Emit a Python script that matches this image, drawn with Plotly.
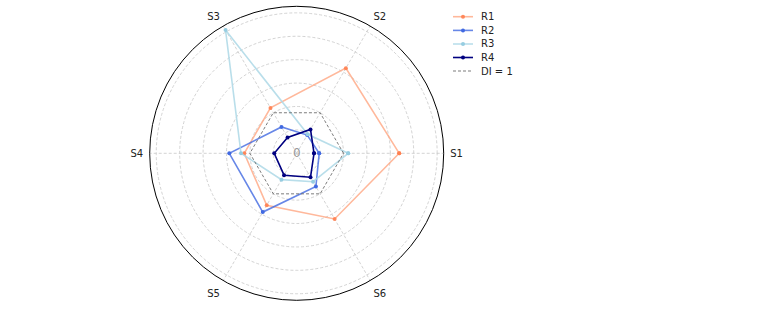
import plotly.graph_objects as go

categories = ["S1", "S2", "S3", "S4", "S5", "S6"]
r1 = [2.19, 2.10, 1.12, 1.12, 1.28, 1.62]
r2 = [0.48, 0.45, 0.65, 1.44, 1.45, 0.82]
r3 = [1.10, 0.47, 3.04, 1.19, 0.65, 0.70]
r4 = [0.37, 0.59, 0.39, 0.48, 0.54, 0.59]
di = [1, 1, 1, 1, 1, 1]
series_names = ["R1", "R2", "R3", "R4"]
ref_name = "DI = 1"
grid_ticks = [0.5, 1.0, 1.5, 2.0, 2.5, 3.0]
r_max = 3.14

def closed(v):
    return list(v) + [v[0]]

theta = closed(categories)

styles = [
    ("rgba(255,160,122,0.75)", "rgba(255,127,80,0.9)"),
    ("rgba(65,105,225,0.8)", "rgba(65,105,225,1)"),
    ("rgba(173,216,230,0.85)", "rgba(150,205,225,1)"),
    ("rgba(0,0,128,1)", "rgba(0,0,128,1)"),
]
ref_color = "rgba(110,110,110,0.9)"

fig = go.Figure()
for name, vals, (lc, mc) in zip(series_names, [r1, r2, r3, r4], styles):
    fig.add_trace(go.Scatterpolar(
        r=closed(vals), theta=theta, mode="lines+markers", name=name,
        line=dict(color=lc, width=1.6),
        marker=dict(color=mc, size=4),
        showlegend=False,
    ))
fig.add_trace(go.Scatterpolar(
    r=closed(di), theta=theta, mode="lines", name=ref_name,
    line=dict(color=ref_color, width=1, dash="3px,2px"),
    showlegend=False,
))

W, H = 778, 309
cx, cy, R = 296.7, 153.3, 147

# custom compact legend (matplotlib-like)
shapes = []
annotations = []
leg_x0, leg_x1, text_x = 453, 473, 479
row_y = [16.7, 30.4, 44.0, 57.5, 71.0]
leg_items = list(zip(series_names, styles)) + [(ref_name, (ref_color, None))]
for (name, (lc, mc)), y in zip(leg_items, row_y):
    yp = 1 - y / H
    shapes.append(dict(
        type="line", xref="paper", yref="paper",
        x0=leg_x0 / W, x1=leg_x1 / W, y0=yp, y1=yp,
        line=dict(color=lc, width=1.6 if mc else 1, dash="solid" if mc else "3px,2px"),
    ))
    if mc:
        xm = (leg_x0 + leg_x1) / 2
        shapes.append(dict(
            type="circle", xref="paper", yref="paper",
            x0=(xm - 2) / W, x1=(xm + 2) / W, y0=yp - 2 / H, y1=yp + 2 / H,
            fillcolor=mc, line=dict(width=0),
        ))
    annotations.append(dict(
        x=text_x / W, y=yp, xref="paper", yref="paper", text=name,
        showarrow=False, xanchor="left", yanchor="middle",
        font=dict(size=10, color="#222"),
    ))

annotations.append(dict(
    x=cx / W, y=(H - cy) / H, xref="paper", yref="paper", text="0",
    showarrow=False, font=dict(size=12, color="#999"),
))

fig.update_layout(
    width=W, height=H,
    margin=dict(l=0, r=0, t=0, b=0),
    paper_bgcolor="white", plot_bgcolor="white",
    font=dict(family="DejaVu Sans", size=10, color="#222"),
    showlegend=False,
    polar=dict(
        domain=dict(x=[(cx - R) / W, (cx + R) / W], y=[(H - cy - R) / H, (H - cy + R) / H]),
        bgcolor="white",
        radialaxis=dict(
            range=[0, r_max], tickvals=grid_ticks, showticklabels=False,
            showline=False, ticks="", gridcolor="rgba(200,200,200,0.8)",
            griddash="3px,2px", gridwidth=1,
        ),
        angularaxis=dict(
            type="category", categoryarray=categories, direction="counterclockwise",
            rotation=0, showline=True, linecolor="black", linewidth=1,
            gridcolor="rgba(200,200,200,0.8)", griddash="3px,2px",
            ticks="outside", ticklen=4, tickcolor="rgba(255,255,255,0)",
            tickfont=dict(size=10, color="#222"),
        ),
    ),
    shapes=shapes,
    annotations=annotations,
)

fig.write_html("out.html", config={"displayModeBar": False},
               post_script="document.body.style.margin='0';")
